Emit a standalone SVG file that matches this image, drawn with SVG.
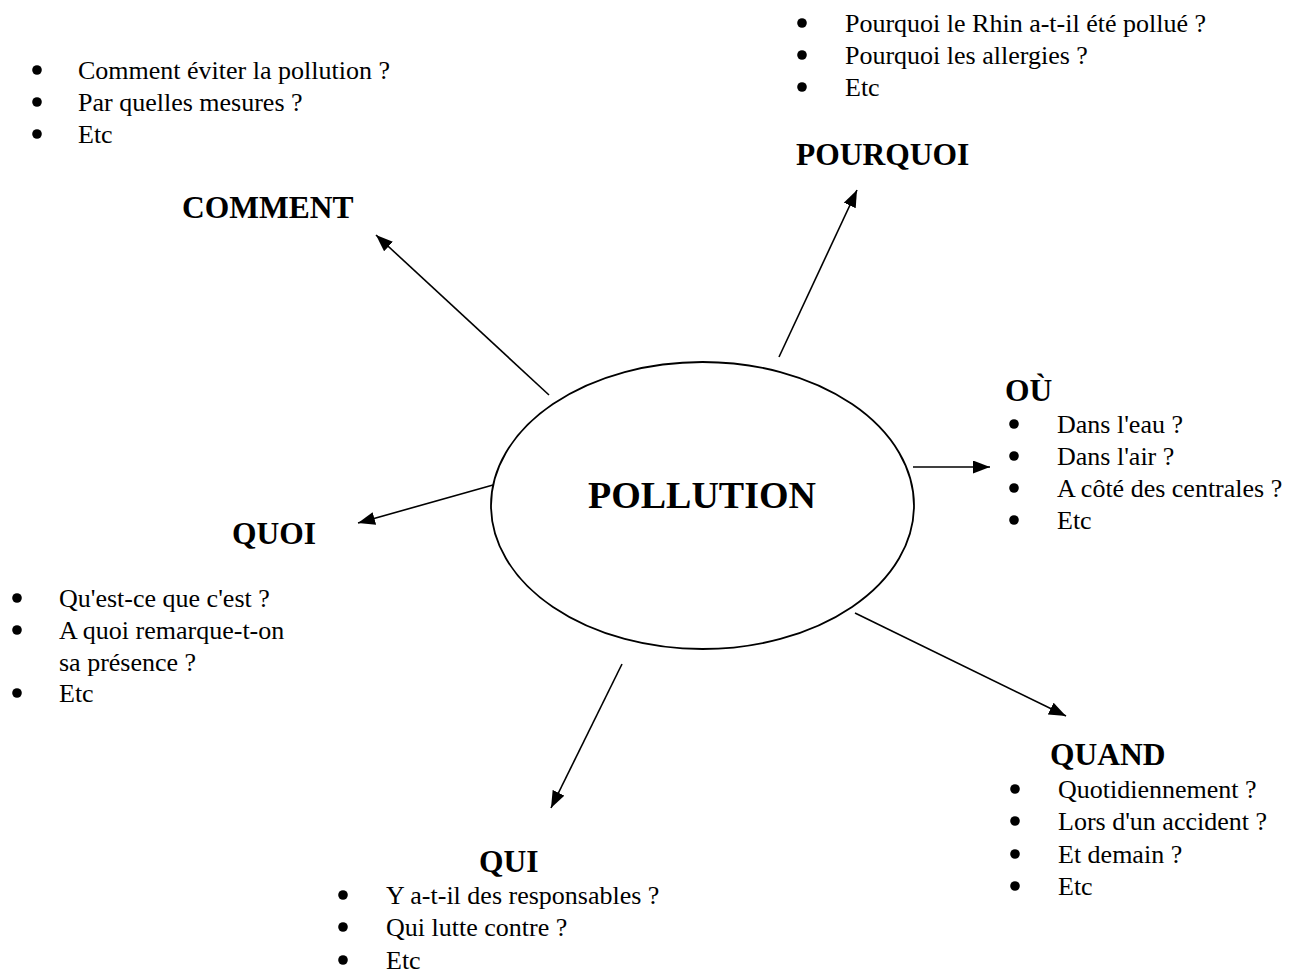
<svg xmlns="http://www.w3.org/2000/svg" width="1306" height="974" viewBox="0 0 1306 974">
<defs>
<marker id="ah" markerUnits="userSpaceOnUse" markerWidth="18" markerHeight="14" refX="17" refY="6.5" orient="auto">
<path d="M0,0 L17,6.5 L0,13 z" fill="#000"/>
</marker>
<style>
.t{font-family:"Liberation Serif","Times New Roman",serif;font-size:26px;fill:#000}
.h{font-family:"Liberation Serif","Times New Roman",serif;font-size:31.5px;font-weight:bold;fill:#000}
.c{stroke:#000;stroke-width:1.6;fill:none;marker-end:url(#ah)}
.d{fill:#000}
</style>
</defs>
<rect width="1306" height="974" fill="#fff"/>
<g id="connectors">
<line class="c" x1="549" y1="395" x2="376" y2="235"/>
<line class="c" x1="779" y1="357" x2="857" y2="190"/>
<line class="c" x1="913" y1="467" x2="990" y2="467"/>
<line class="c" x1="493" y1="485" x2="358" y2="523"/>
<line class="c" x1="622" y1="664" x2="551" y2="808"/>
<line class="c" x1="855" y1="613" x2="1066" y2="716"/>
</g>
<g id="pollution">
<ellipse cx="702.5" cy="505.5" rx="211.5" ry="143.5" fill="#fff" stroke="#000" stroke-width="1.8"/>
<text x="702" y="508" font-family="'Liberation Serif','Times New Roman',serif" font-size="38" font-weight="bold" text-anchor="middle">POLLUTION</text>
</g>
<g id="comment">
<text class="h" x="182" y="218">COMMENT</text>
<circle class="d" cx="37" cy="70" r="4.8"/><text class="t" x="78" y="79">Comment éviter la pollution ?</text>
<circle class="d" cx="37" cy="102" r="4.8"/><text class="t" x="78" y="111">Par quelles mesures ?</text>
<circle class="d" cx="37" cy="134" r="4.8"/><text class="t" x="78" y="143">Etc</text>
</g>
<g id="pourquoi">
<text class="h" x="796" y="165">POURQUOI</text>
<circle class="d" cx="802" cy="23" r="4.8"/><text class="t" x="845" y="32">Pourquoi le Rhin a-t-il été pollué ?</text>
<circle class="d" cx="802" cy="55" r="4.8"/><text class="t" x="845" y="64">Pourquoi les allergies ?</text>
<circle class="d" cx="802" cy="87" r="4.8"/><text class="t" x="845" y="96">Etc</text>
</g>
<g id="ou">
<text class="h" x="1005" y="401">OÙ</text>
<circle class="d" cx="1014" cy="424" r="4.8"/><text class="t" x="1057" y="433">Dans l'eau ?</text>
<circle class="d" cx="1014" cy="456" r="4.8"/><text class="t" x="1057" y="465">Dans l'air ?</text>
<circle class="d" cx="1014" cy="488" r="4.8"/><text class="t" x="1057" y="497">A côté des centrales ?</text>
<circle class="d" cx="1014" cy="520" r="4.8"/><text class="t" x="1057" y="529">Etc</text>
</g>
<g id="quoi">
<text class="h" x="232" y="544">QUOI</text>
<circle class="d" cx="17" cy="598" r="4.8"/><text class="t" x="59" y="607">Qu'est-ce que c'est ?</text>
<circle class="d" cx="17" cy="630" r="4.8"/><text class="t" x="59" y="639">A quoi remarque-t-on</text>
<text class="t" x="59" y="671">sa présence ?</text>
<circle class="d" cx="17" cy="693" r="4.8"/><text class="t" x="59" y="702">Etc</text>
</g>
<g id="quand">
<text class="h" x="1050" y="765">QUAND</text>
<circle class="d" cx="1015" cy="789" r="4.8"/><text class="t" x="1058" y="798">Quotidiennement ?</text>
<circle class="d" cx="1015" cy="821" r="4.8"/><text class="t" x="1058" y="830">Lors d'un accident ?</text>
<circle class="d" cx="1015" cy="854" r="4.8"/><text class="t" x="1058" y="863">Et demain ?</text>
<circle class="d" cx="1015" cy="886" r="4.8"/><text class="t" x="1058" y="895">Etc</text>
</g>
<g id="qui">
<text class="h" x="479" y="872">QUI</text>
<circle class="d" cx="343" cy="895" r="4.8"/><text class="t" x="386" y="904">Y a-t-il des responsables ?</text>
<circle class="d" cx="343" cy="927" r="4.8"/><text class="t" x="386" y="936">Qui lutte contre ?</text>
<circle class="d" cx="343" cy="960" r="4.8"/><text class="t" x="386" y="969">Etc</text>
</g>
</svg>
